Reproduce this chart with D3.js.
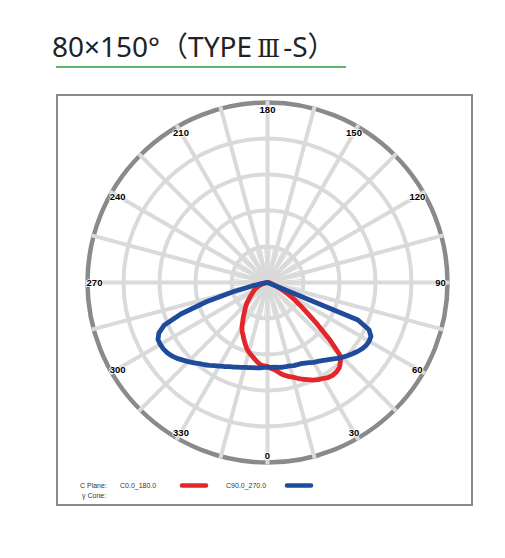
<!DOCTYPE html>
<html>
<head>
<meta charset="utf-8">
<script src="https://cdn.jsdelivr.net/npm/d3@7"></script>
<style>
  html, body { margin: 0; padding: 0; background: #fff; }
  svg { display: block; }
</style>
</head>
<body>
<svg id="chart" width="505" height="558"></svg>
<script>
// ---------- DATA ----------
const titleParts = ["80×150°（TYPE", "Ⅲ", "-S）"];
// gamma angles (deg): negative = C180 / C270 side (left), positive = C0 / C90 side (right)
const gammaAngles = d3.range(-90, 90.01, 2.5);
// luminous intensity (relative cd/klm), C0.0_180.0 plane
const c0_180 = [0, 1, 3, 6, 8, 11, 15, 19, 24, 28, 33, 38, 42, 47, 51, 57, 64, 72, 81, 89, 97, 106, 117, 128, 142, 153, 161, 171, 181, 192, 200, 207, 214, 222, 229, 232,
  233,
  239, 244, 253, 261, 267, 272, 279, 286, 292, 299, 304, 308, 313, 315, 314, 310, 300, 283, 233, 181, 139, 111, 89, 69, 53, 39, 28, 19, 14, 11, 8, 6, 4, 3, 1, 0];
// C90.0_270.0 plane
const c90_270 = [0, 0, 0, 6, 17, 44, 97, 178, 256, 311, 333, 343, 344, 343, 340, 335, 328, 319, 311, 303, 294, 288, 281, 274, 268, 263, 258, 254, 250, 247, 244, 242, 240, 239, 238, 236,
  236,
  236, 236, 238, 239, 239, 240, 242, 243, 244, 247, 251, 256, 260, 265, 271, 278, 286, 294, 301, 308, 315, 321, 325, 326, 324, 311, 272, 0, 0, 0, 0, 0, 0, 0, 0, 0];
const ringValues = [100, 200, 300, 400, 500];
const angleLabels = [0, 30, 60, 90, 120, 150, 180, 210, 240, 270, 300, 330];
const seriesNames = ["C0.0_180.0", "C90.0_270.0"];
const seriesColors = ["#e3262a", "#1f4b9c"];

// ---------- LAYOUT ----------
const svg = d3.select("#chart");
const cx = 267.5, cy = 282.5, R = 180;
const r = d3.scaleLinear().domain([0, 500]).range([0, R]);
const toRad = d => d * Math.PI / 180;
// polar angle: 0 at bottom, 90 at right, 180 at top
const px = (deg, rad) => cx + rad * Math.sin(toRad(deg));
const py = (deg, rad) => cy + rad * Math.cos(toRad(deg));

// Title
const title = svg.append("text")
  .attr("x", 52).attr("y", 57)
  .attr("font-family", "'Noto Sans', 'Noto Sans CJK SC', sans-serif")
  .attr("font-size", 28)
  .attr("fill", "#222");
title.append("tspan").text(titleParts[0]);
title.append("tspan").attr("dx", 5).attr("font-family", "'DejaVu Serif', serif").attr("font-size", 24).text(titleParts[1]);
title.append("tspan").attr("dx", 3).text(titleParts[2]);
svg.append("line")
  .attr("x1", 56).attr("x2", 346).attr("y1", 67).attr("y2", 67)
  .attr("stroke", "#5db66f").attr("stroke-width", 2);

// Frame
svg.append("rect")
  .attr("x", 57).attr("y", 95).attr("width", 415).attr("height", 410)
  .attr("fill", "none").attr("stroke", "#8a8a8a").attr("stroke-width", 2);

const g = svg.append("g");
const gridColor = "#dadada";

// fine spokes (5°) near center
d3.range(0, 360, 5).forEach(a => {
  g.append("line")
    .attr("x1", cx).attr("y1", cy)
    .attr("x2", px(a, r(100))).attr("y2", py(a, r(100)))
    .attr("stroke", gridColor).attr("stroke-width", 1);
});
// rings
ringValues.slice(0, -1).forEach(v => {
  g.append("circle").attr("cx", cx).attr("cy", cy).attr("r", r(v))
    .attr("fill", "none").attr("stroke", gridColor).attr("stroke-width", 4);
});
// outer ring
g.append("circle").attr("cx", cx).attr("cy", cy).attr("r", r(500))
  .attr("fill", "none").attr("stroke", "#8a8a8a").attr("stroke-width", 4.5);
// main spokes (15°)
d3.range(0, 360, 15).forEach(a => {
  g.append("line")
    .attr("x1", cx).attr("y1", cy)
    .attr("x2", px(a, r(500) + 2)).attr("y2", py(a, r(500) + 2))
    .attr("stroke", gridColor).attr("stroke-width", 4);
});

// angle labels
g.selectAll("text.alab").data(angleLabels).join("text")
  .attr("class", "alab")
  .attr("x", d => px(d, 173)).attr("y", d => py(d, 173))
  .attr("text-anchor", "middle").attr("dominant-baseline", "central")
  .attr("font-family", "'Liberation Sans', Arial, sans-serif")
  .attr("font-weight", "bold").attr("font-size", 9.5)
  .attr("fill", "#000")
  .attr("stroke", "#fff").attr("stroke-width", 1.5).attr("paint-order", "stroke")
  .text(d => d);

// curves
const curveG = svg.append("g").attr("transform", `translate(${cx},${cy})`);
const radial = d3.lineRadial()
  .angle(d => Math.PI - toRad(d.g))
  .radius(d => r(d.v))
  .curve(d3.curveLinearClosed);

[c0_180, c90_270].forEach((vals, i) => {
  const pts = gammaAngles.map((a, k) => ({ g: a, v: vals[k] }));
  curveG.append("path")
    .attr("d", radial(pts))
    .attr("fill", "none")
    .attr("stroke", seriesColors[i])
    .attr("stroke-width", 4.8)
    .attr("stroke-linejoin", "round");
});

// legend
const lf = "'Liberation Sans', Arial, sans-serif";
svg.append("text").attr("x", 80).attr("y", 488).attr("font-family", lf).attr("font-size", 7).attr("fill", "#333").text("C Plane:");
svg.append("text").attr("x", 82).attr("y", 497.5).attr("font-family", lf).attr("font-size", 7).attr("fill", "#333").text("γ Cone:");
const legX = [120, 226];
const barX = [182, 287];
seriesNames.forEach((n, i) => {
  svg.append("text").attr("x", legX[i]).attr("y", 488).attr("font-family", lf).attr("font-size", 7).attr("fill", "#333").text(n);
  svg.append("line").attr("x1", barX[i]).attr("x2", barX[i] + 24).attr("y1", 485.5).attr("y2", 485.5)
    .attr("stroke", seriesColors[i]).attr("stroke-width", 4.5).attr("stroke-linecap", "round");
});
</script>
</body>
</html>
